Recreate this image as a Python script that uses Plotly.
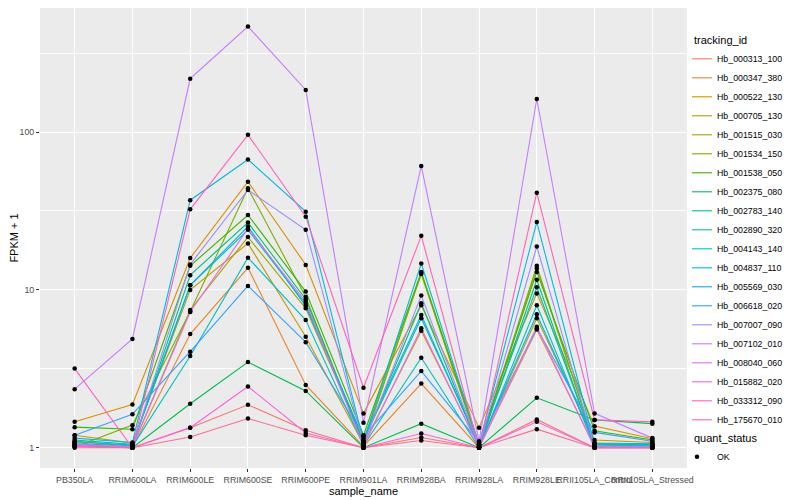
import plotly.graph_objects as go

samples = ["PB350LA", "RRIM600LA", "RRIM600LE", "RRIM600SE", "RRIM600PE", "RRIM901LA",
           "RRIM928BA", "RRIM928LA", "RRIM928LE", "RRII105LA_Control", "RRII105LA_Stressed"]

tracking_ids = ["Hb_000313_100", "Hb_000347_380", "Hb_000522_130", "Hb_000705_130", "Hb_001515_030",
                "Hb_001534_150", "Hb_001538_050", "Hb_002375_080", "Hb_002783_140", "Hb_002890_320",
                "Hb_004143_140", "Hb_004837_110", "Hb_005569_030", "Hb_006618_020", "Hb_007007_090",
                "Hb_007102_010", "Hb_008040_060", "Hb_015882_020", "Hb_033312_090", "Hb_175670_010"]

colors = ["#F8766D", "#EA8331", "#D89000", "#C09B00", "#A3A500", "#7CAE00", "#39B600", "#00BB4E",
          "#00BF7D", "#00C1A3", "#00BFC4", "#00BAE0", "#00B0F6", "#35A2FF", "#9590FF", "#C77CFF",
          "#E76BF3", "#FA62DB", "#FF62BC", "#FF6C91"]

# FPKM + 1 per sample, one list per tracking_id
v_000313_100 = [1.08, 1.00, 1.34, 1.87, 1.29, 1.00, 1.16, 1.00, 1.51, 1.00, 1.00]
v_000347_380 = [1.02, 1.00, 5.25, 13.8, 2.50, 1.02, 2.55, 1.00, 5.60, 1.02, 1.05]
v_000522_130 = [1.46, 1.88, 15.9, 48.5, 14.4, 1.65, 8.00, 1.34, 9.50, 1.37, 1.14]
v_000705_130 = [1.20, 1.07, 10.0, 19.7, 5.05, 1.05, 5.51, 1.02, 6.61, 1.12, 1.08]
v_001515_030 = [1.10, 1.02, 7.46, 21.6, 7.64, 1.10, 12.6, 1.00, 13.7, 1.07, 1.03]
v_001534_150 = [1.01, 1.39, 7.30, 44.0, 9.00, 1.05, 12.8, 1.03, 14.2, 1.05, 1.02]
v_001538_050 = [1.35, 1.31, 14.2, 29.8, 9.75, 1.20, 13.0, 1.05, 13.0, 1.28, 1.12]
v_002375_080 = [1.03, 1.00, 1.90, 3.49, 2.29, 1.00, 1.42, 1.00, 2.07, 1.50, 1.42]
v_002783_140 = [1.05, 1.03, 12.4, 26.7, 8.72, 1.08, 8.22, 1.00, 11.6, 1.03, 1.00]
v_002890_320 = [1.12, 1.05, 10.7, 24.0, 8.14, 1.12, 6.61, 1.05, 10.4, 1.05, 1.03]
v_004143_140 = [1.06, 1.02, 3.81, 16.0, 6.44, 1.03, 3.72, 1.00, 7.99, 1.02, 1.01]
v_004837_110 = [1.15, 1.08, 37.0, 67.0, 31.3, 1.10, 14.7, 1.05, 26.9, 1.05, 1.05]
v_005569_030 = [1.09, 1.04, 10.7, 25.2, 7.90, 1.15, 6.93, 1.03, 7.00, 1.07, 1.06]
v_006618_020 = [1.20, 1.63, 4.06, 10.6, 4.66, 1.18, 3.06, 1.08, 5.71, 1.25, 1.10]
v_007007_090 = [1.04, 1.02, 14.5, 43.0, 24.0, 1.06, 9.20, 1.02, 18.8, 1.02, 1.02]
v_007102_010 = [2.35, 4.89, 218.0, 466.0, 185.0, 1.44, 61.0, 1.10, 162.0, 1.65, 1.15]
v_008040_060 = [1.05, 1.01, 7.24, 24.4, 8.42, 1.02, 5.71, 1.00, 5.85, 1.00, 1.00]
v_015882_020 = [1.02, 1.00, 1.34, 2.44, 1.24, 1.00, 1.23, 1.00, 1.46, 1.00, 1.00]
v_033312_090 = [3.17, 1.00, 32.4, 96.0, 29.1, 2.40, 22.0, 1.00, 41.3, 1.50, 1.46]
v_175670_010 = [1.00, 1.00, 1.17, 1.53, 1.20, 1.00, 1.11, 1.00, 1.31, 1.00, 1.00]

series = [v_000313_100, v_000347_380, v_000522_130, v_000705_130, v_001515_030, v_001534_150,
          v_001538_050, v_002375_080, v_002783_140, v_002890_320, v_004143_140, v_004837_110,
          v_005569_030, v_006618_020, v_007007_090, v_007102_010, v_008040_060, v_015882_020,
          v_033312_090, v_175670_010]

y_ticks = [1, 10, 100]
y_minor = [10 ** 0.5, 10 ** 1.5, 10 ** 2.5]

FONT = "Liberation Sans, Arial, sans-serif"

fig = go.Figure()
for name, col, vals in zip(tracking_ids, colors, series):
    fig.add_trace(go.Scatter(x=samples, y=vals, mode="lines", name=name,
                             line=dict(color=col, width=1.1), legend="legend",
                             hoverinfo="x+y+name"))

all_x, all_y = [], []
for vals in series:
    all_x += samples
    all_y += vals
fig.add_trace(go.Scatter(x=all_x, y=all_y, mode="markers", name="OK",
                         marker=dict(color="black", size=4.5, symbol="circle"),
                         legend="legend2"))

# page body adds an 8px offset; margins compensate so the panel sits at 40..687 x 5..468
fig.update_layout(
    width=800, height=500,
    margin=dict(l=32, r=121, t=0, b=40),
    paper_bgcolor="white", plot_bgcolor="#EBEBEB",
    font=dict(family=FONT, color="black"),
    xaxis=dict(type="category", categoryorder="array", categoryarray=samples,
               range=[-0.6, len(samples) - 0.4], showgrid=True, gridcolor="white", gridwidth=1.07,
               zeroline=False, showline=False, ticks="outside", ticklen=3, tickwidth=1,
               tickcolor="#333333", tickangle=0, tickfont=dict(size=8.8, color="#4D4D4D"),
               title=dict(text="sample_name", font=dict(size=11), standoff=2),
               automargin=False),
    yaxis=dict(type="log", range=[-0.1286, 2.786], tickmode="array", tickvals=y_ticks,
               ticktext=[str(t) for t in y_ticks], showgrid=True, gridcolor="white", gridwidth=1.07,
               zeroline=False, showline=False, ticks="outside", ticklen=3, tickwidth=1,
               tickcolor="#333333", tickfont=dict(size=8.8, color="#4D4D4D"),
               minor=dict(tickmode="array", tickvals=y_minor, showgrid=True, gridcolor="white",
                          gridwidth=0.53, ticks=""),
               title=dict(text="FPKM + 1", font=dict(size=11), standoff=0),
               automargin=False),
    legend=dict(title=dict(text="tracking_id", font=dict(size=11)), xref="container", yref="container",
                x=684 / 800, y=1 - 22 / 500, xanchor="left", yanchor="top", font=dict(size=8.8),
                itemwidth=30, bgcolor="rgba(0,0,0,0)", tracegroupgap=0, indentation=-15,
                maxheight=470),
    legend2=dict(title=dict(text="quant_status", font=dict(size=11)), xref="container", yref="container",
                 x=684 / 800, y=1 - 420 / 500, xanchor="left", yanchor="top", font=dict(size=8.8),
                 itemwidth=30, bgcolor="rgba(0,0,0,0)", indentation=-15),
    showlegend=True,
)

fig.write_html("out.html")
